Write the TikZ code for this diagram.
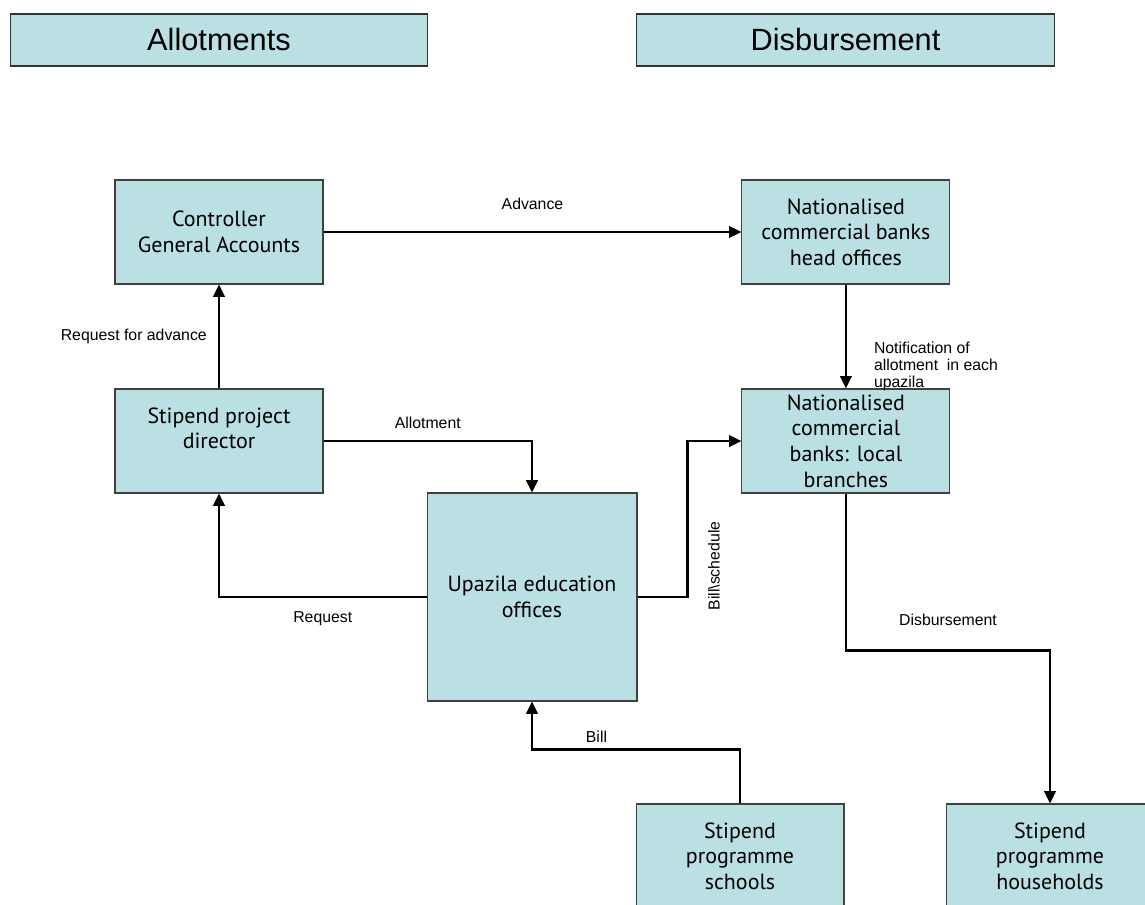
\documentclass[tikz,border=0pt]{standalone}
\usepackage{fontspec}
\setmainfont{Liberation Sans}
\newfontfamily\boxfont{PT Sans}
\usetikzlibrary{positioning, arrows.meta}
\definecolor{boxblue}{RGB}{187,224,227}
\tikzset{>={Triangle[length=7pt,width=6.5pt]}, node distance=2.08cm,
  block/.style={draw=black!75, line width=0.6pt, fill=boxblue, align=center, inner sep=1pt,
    minimum width=4.16cm, minimum height=2.08cm, font=\boxfont\fontsize{12.5}{14.6}\selectfont},
  head/.style={draw=black!80, line width=0.6pt, fill=boxblue, minimum width=8.36cm,
    minimum height=1.04cm, font=\fontsize{17.5}{20}\selectfont},
  flow/.style={->, line width=1.3pt},
  lbl/.style={font=\fontsize{9}{9.6}\selectfont}}

\begin{document}
\begin{tikzpicture}[x=0.02cm, y=-0.02cm]
    \useasboundingbox (0,0) rectangle (1145,905);
    \node[head] (allot) at (219,40) {Allotments};
    \node[head] (disb) at (845.5,40) {Disbursement};

    \node[block] (cga) at (219,232) {Controller\\General Accounts};
    \node[block, right=8.36cm of cga] (nchead) {Nationalised\\commercial banks\\head offices};
    \node[block, below=of cga] (spd) {Stipend project\\director\\\mbox{}};
    \node[block, below=of nchead] (ncbl) {Nationalised\\commercial\\banks: local\\branches};
    \node[block, minimum width=4.2cm, minimum height=4.16cm] (ueo) at (532,597) {Upazila education\\offices};
    \node[block] (sps) at (740,856) {Stipend\\programme\\schools};
    \node[block] (sph) at (1050,856) {Stipend\\programme\\households};

    \draw[flow] (cga) -- node[lbl, above=9pt] {Advance} (nchead);
    \draw[flow] (spd) -- node[lbl, left=3pt] {Request for advance} (cga);
    \draw[flow] (spd.east) -| node[lbl, pos=0.25, above=3pt] {Allotment} (ueo.north);
    \draw[flow] (ueo.west) -| node[lbl, pos=0.25, below=4.5pt] {Request} (spd.south);
    \draw[flow] (ueo.east) -- ++(50,0) |- (ncbl.west);
    \node[lbl, rotate=90] (bslbl) at (714,566) {Bill\textbackslash schedule};
    \draw[flow] (nchead) -- node[lbl, pos=0.79, right=12pt, align=left] {Notification of\\allotment\ \ in each\\upazila} (ncbl);
    \draw[flow] (ncbl.south) -- ++(0,157) -| node[lbl, pos=0.25, above=10pt] {Disbursement} (sph.north);
    \draw[flow] (sps.north) -- ++(0,-54) -| node[lbl, pos=0.345, above=0pt] {Bill} (ueo.south);
\end{tikzpicture}
\end{document}
